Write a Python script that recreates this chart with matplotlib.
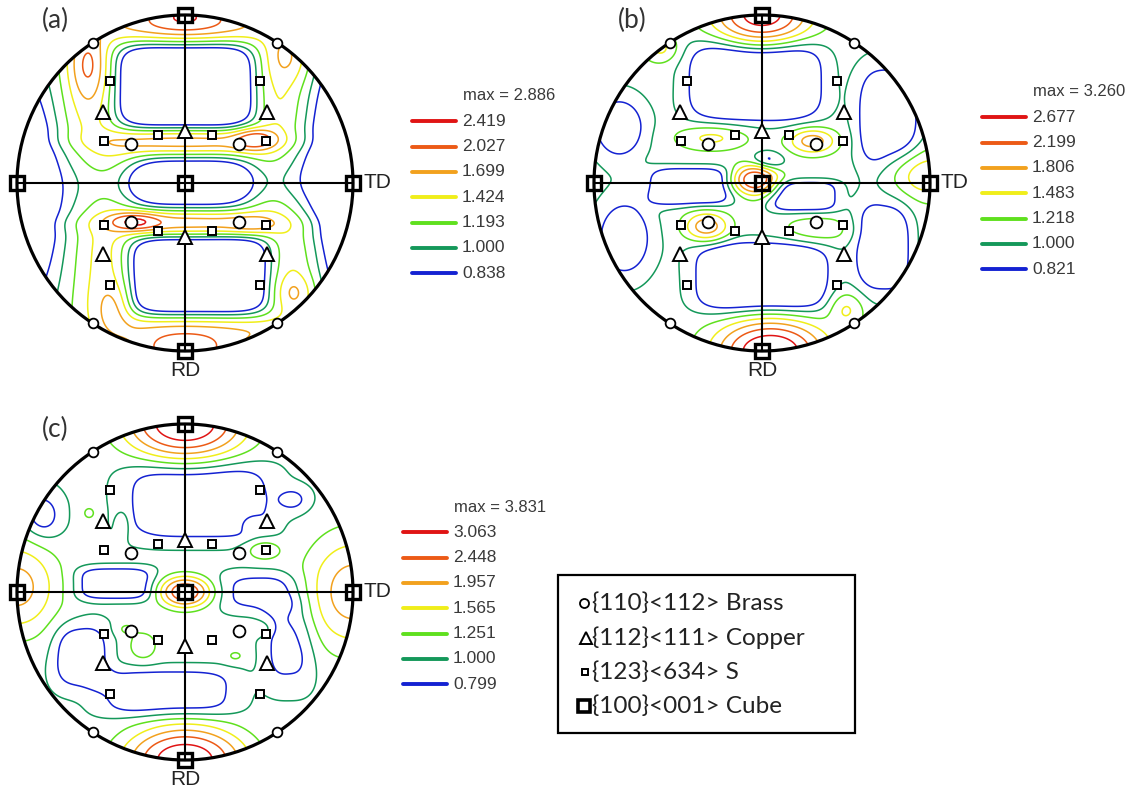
import numpy as np
import matplotlib
matplotlib.use("Agg")
import matplotlib.pyplot as plt
from matplotlib.patches import Circle, Rectangle

# contour colours, highest level first
line_colors = ["#e01414", "#ec5a16", "#f2a11e", "#f0ee1a", "#5fe01e", "#14985a", "#1422d2"]

levels_a = [2.419, 2.027, 1.699, 1.424, 1.193, 1.000, 0.838]
levels_b = [2.677, 2.199, 1.806, 1.483, 1.218, 1.000, 0.821]
levels_c = [3.063, 2.448, 1.957, 1.565, 1.251, 1.000, 0.799]
max_a, max_b, max_c = 2.886, 3.260, 3.831

# intensity components of each pole figure: (x, y, sx, sy, amplitude, shape exponent)
base_a = 1.10
density_a = [
    (0.00, 0.575, 0.66, 0.46, 0.95, 4),     # ridge around upper low
    (0.00, 0.575, 0.47, 0.29, -1.60, 5),    # upper low
    (0.08, -0.55, 0.66, 0.44, 0.95, 4),     # ridge around lower low
    (0.08, -0.55, 0.47, 0.27, -1.60, 5),    # lower low
    (0.03, 0.00, 0.40, 0.20, -0.80, 4),     # central low
    (-1.10, -0.05, 0.35, 0.70, -0.90, 2),
    (1.10, 0.05, 0.40, 0.85, -0.95, 2),
    (0.00, 1.00, 0.25, 0.10, 0.90, 2),
    (0.00, -1.00, 0.26, 0.10, 0.95, 2),
    (0.00, 0.25, 0.55, 0.06, 0.30, 2),
    (0.00, -0.24, 0.55, 0.06, 0.30, 2),
    (0.42, 0.26, 0.12, 0.06, 0.75, 2),
    (-0.30, -0.23, 0.14, 0.05, 0.80, 2),
    (0.40, -0.25, 0.14, 0.05, 0.25, 2),
    (-0.58, 0.70, 0.10, 0.20, 0.60, 2),
    (0.62, 0.75, 0.12, 0.15, 0.35, 2),
    (-0.42, -0.75, 0.10, 0.15, 0.35, 2),
    (0.65, -0.65, 0.10, 0.10, 0.35, 2),
]

base_b = 1.10
density_b = [
    (-0.04, 0.605, 0.42, 0.25, -0.60, 4),
    (0.00, -0.56, 0.42, 0.22, -0.60, 4),
    (-0.42, -0.02, 0.26, 0.12, -0.50, 4),
    (0.25, -0.08, 0.22, 0.10, -0.45, 4),
    (0.03, 0.13, 0.10, 0.06, -0.40, 2),
    (-0.85, 0.33, 0.17, 0.20, -0.50, 2),
    (-0.82, -0.33, 0.18, 0.25, -0.50, 2),
    (0.75, 0.38, 0.20, 0.35, -0.50, 3),
    (0.72, -0.38, 0.18, 0.30, -0.50, 3),
    (-0.04, 0.02, 0.12, 0.08, 1.60, 2),
    (0.30, 0.25, 0.13, 0.07, 0.90, 2),
    (-0.33, -0.26, 0.12, 0.08, 0.95, 2),
    (-0.30, 0.27, 0.20, 0.07, 0.45, 2),
    (0.33, -0.28, 0.20, 0.08, 0.30, 2),
    (0.00, 1.00, 0.25, 0.15, 1.90, 2),
    (0.05, -1.00, 0.28, 0.16, 2.20, 2),
    (0.95, 0.05, 0.20, 0.14, 0.65, 2),
    (0.50, -0.75, 0.10, 0.10, 0.45, 2),
    (-0.60, 0.80, 0.10, 0.08, 0.45, 2),
]

base_c = 1.05
density_c = [
    (0.00, 1.00, 0.30, 0.17, 2.80, 2),
    (0.00, -1.00, 0.30, 0.17, 2.70, 2),
    (-1.00, 0.03, 0.22, 0.25, 1.10, 2),
    (1.00, 0.00, 0.25, 0.30, 1.20, 2),
    (0.00, 0.00, 0.13, 0.08, 2.00, 2),
    (-0.57, 0.47, 0.06, 0.06, 0.25, 2),
    (-0.37, 0.40, 0.04, 0.08, 0.25, 2),
    (0.40, 0.40, 0.06, 0.05, 0.25, 2),
    (0.47, 0.25, 0.10, 0.06, 0.45, 2),
    (-0.25, -0.32, 0.08, 0.08, 0.45, 2),
    (-0.35, -0.22, 0.06, 0.04, 0.25, 2),
    (0.45, -0.22, 0.06, 0.04, 0.25, 2),
    (0.30, -0.38, 0.06, 0.04, 0.25, 2),
    (0.08, 0.54, 0.45, 0.24, -0.45, 4),
    (-0.42, 0.05, 0.24, 0.10, -0.45, 4),
    (-0.62, -0.38, 0.17, 0.20, -0.45, 3),
    (-0.10, -0.60, 0.42, 0.15, -0.40, 4),
    (0.45, 0.00, 0.25, 0.12, -0.35, 3),
    (0.62, -0.30, 0.16, 0.28, -0.35, 3),
    (-0.85, 0.45, 0.12, 0.15, -0.40, 2),
    (0.65, 0.55, 0.10, 0.08, -0.30, 2),
]

# ideal orientations in the {100} pole figure
brass_x = [-0.55, 0.55, -0.55, 0.55, -0.32, 0.32, -0.32, 0.32]
brass_y = [0.835, 0.835, -0.835, -0.835, 0.235, 0.235, -0.235, -0.235]
copper_x = [-0.49, 0.49, -0.49, 0.49, 0.0, 0.0]
copper_y = [0.425, 0.425, -0.425, -0.425, 0.31, -0.32]
s_x = [-0.445, 0.445, -0.445, 0.445, -0.48, 0.48, -0.48, 0.48, -0.16, 0.16, -0.16, 0.16]
s_y = [0.61, 0.61, -0.61, -0.61, 0.25, 0.25, -0.25, -0.25, 0.285, 0.285, -0.285, -0.285]
cube_x = [0, 0, 0, -1, 1]
cube_y = [0, 1, -1, 0, 0]

texture_names = ["{110}<112> Brass", "{112}<111> Copper", "{123}<634> S", "{100}<001> Cube"]

W, H = 1134, 798
R = 168  # pole figure radius in pixels


def field(base, comps, n=401):
    g = np.linspace(-1.02, 1.02, n)
    X, Y = np.meshgrid(g, g)
    F = np.full_like(X, base)
    for cx, cy, sx, sy, amp, p in comps:
        F += amp * np.exp(-(np.abs((X - cx) / sx) ** p + np.abs((Y - cy) / sy) ** p))
    return X, Y, F


def draw_marks(ax):
    kw = dict(ls="none", mfc="white", mec="black", zorder=5, clip_on=False)
    ax.plot(brass_x[:4], brass_y[:4], "o", ms=7, mew=1.3, **kw)
    ax.plot(brass_x[4:], brass_y[4:], "o", ms=8.5, mew=1.3, **kw)
    ax.plot(copper_x, copper_y, "^", ms=10, mew=1.4, **kw)
    ax.plot(s_x, s_y, "s", ms=5.5, mew=1.4, **kw)
    kw["mfc"] = "none"
    ax.plot(cube_x, cube_y, "s", ms=10, mew=2.4, **kw)


def pole_figure(fig, cx, cy, base, comps, levels, fmax, tag, half=1.1):
    s = half * R
    ax = fig.add_axes([(cx - s) / W, 1 - (cy + s) / H, 2 * s / W, 2 * s / H])
    ax.set_xlim(-half, half)
    ax.set_ylim(-half, half)
    ax.axis("off")

    X, Y, F = field(base, comps)
    top = levels[0]
    peak = F[X ** 2 + Y ** 2 <= 1].max()
    if peak > top:
        hi = F > top
        F[hi] = top + (F[hi] - top) * (fmax - top) / (peak - top)

    cs = ax.contour(X, Y, F, levels=levels[::-1], colors=line_colors[::-1], linewidths=1.1)
    rim_clip = Circle((0, 0), 1.0, transform=ax.transData)
    cs.set_clip_path(rim_clip)

    ax.add_patch(Circle((0, 0), 1.0, fill=False, lw=2.3, ec="black", zorder=4))
    ax.plot([-1, 1], [0, 0], color="black", lw=1.5, zorder=4)
    ax.plot([0, 0], [-1, 1], color="black", lw=1.5, zorder=4)
    draw_marks(ax)

    ax.text(1.06, 0, "TD", fontsize=15, family="Liberation Sans", ha="left", va="center", color="#222222")
    ax.text(0, -1.06, "RD", fontsize=15, family="Liberation Sans", ha="center", va="top", color="#222222")
    ax.text(-0.77, 0.97, tag, fontsize=19, family="Lato", ha="center", va="center", color="#333333")
    return ax


def level_legend(ov, x0, y0, levels, fmax):
    ov.text(x0 + 51, y0, f"max = {fmax:.3f}", fontsize=12, family="Liberation Sans",
            ha="left", va="center", color="#3a3a3a")
    for i, (lv, c) in enumerate(zip(levels, line_colors)):
        y = y0 + 25.3 * (i + 1)
        ov.plot([x0, x0 + 44], [y, y], color=c, lw=2.8, solid_capstyle="round")
        ov.text(x0 + 50, y, f"{lv:.3f}", fontsize=12.5, family="Liberation Sans",
                ha="left", va="center", color="#3a3a3a")


fig = plt.figure(figsize=(W / 100, H / 100), dpi=100)

pole_figure(fig, 185, 183, base_a, density_a, levels_a, max_a, "(a)")
pole_figure(fig, 762, 183, base_b, density_b, levels_b, max_b, "(b)")
pole_figure(fig, 185, 592, base_c, density_c, levels_c, max_c, "(c)")

# overlay in pixel units for the legends
ov = fig.add_axes([0, 0, 1, 1])
ov.set_xlim(0, W)
ov.set_ylim(H, 0)
ov.axis("off")

level_legend(ov, 412, 96, levels_a, max_a)
level_legend(ov, 982, 92, levels_b, max_b)
level_legend(ov, 403, 507, levels_c, max_c)

ov.add_patch(Rectangle((558, 575), 297, 158, fill=False, lw=1.6, ec="black"))
rows_y = [603, 638, 672, 706]
mk = dict(ls="none", mfc="white", mec="black")
ov.plot([584], [rows_y[0]], "o", ms=6.5, mew=1.3, **mk)
ov.plot([586], [rows_y[1]], "^", ms=9, mew=1.4, **mk)
ov.plot([585], [rows_y[2]], "s", ms=5, mew=1.4, **mk)
ov.plot([584], [rows_y[3]], "s", ms=9, mew=2.6, **mk)
for y, name in zip(rows_y, texture_names):
    ov.text(592, y, name, fontsize=17.5, family="Lato", ha="left", va="center", color="#222222")

fig.savefig("out.png", dpi=100)
